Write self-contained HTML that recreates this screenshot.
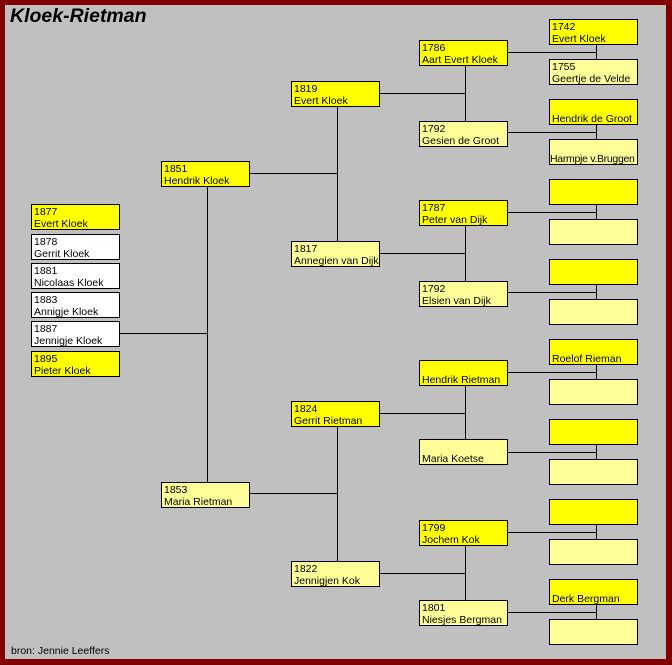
<!DOCTYPE html>
<html><head><meta charset="utf-8"><style>
body{margin:0;width:672px;height:665px;background:#800000;position:relative;overflow:hidden;font-family:"Liberation Sans",Arial,sans-serif}
#bg{position:absolute;left:5px;top:5px;width:661px;height:654px;background:#c0c0c0}
.b{position:absolute;box-sizing:border-box;width:89px;height:26px;border:1px solid #000;font-size:10.5px;line-height:12px;padding:1px 0 0 2px;white-space:nowrap;overflow:visible;color:#000}
.m{background:#ffff00}.f{background:#ffff99}.w{background:#fff}
.h{position:absolute;height:1px;background:#000}
.v{position:absolute;width:1px;background:#000}
</style></head><body>
<div id="bg"></div>
<div style="position:absolute;left:10px;top:5px;font-size:19.5px;font-weight:bold;font-style:italic">Kloek-Rietman</div>
<div style="position:absolute;left:11px;top:645px;font-size:10.5px">bron: Jennie Leeffers</div>

<!-- lines -->
<div class="v" style="left:207px;top:186px;height:296px"></div>
<div class="h" style="left:119px;top:333px;width:88px"></div>
<div class="h" style="left:250px;top:173px;width:87px"></div>
<div class="h" style="left:250px;top:493px;width:87px"></div>
<div class="v" style="left:337px;top:106px;height:135px"></div>
<div class="v" style="left:337px;top:426px;height:135px"></div>
<div class="h" style="left:379px;top:93px;width:86px"></div>
<div class="h" style="left:379px;top:253px;width:86px"></div>
<div class="h" style="left:379px;top:413px;width:86px"></div>
<div class="h" style="left:379px;top:573px;width:86px"></div>
<div class="v" style="left:465px;top:65px;height:56px"></div>
<div class="v" style="left:465px;top:225px;height:56px"></div>
<div class="v" style="left:465px;top:385px;height:54px"></div>
<div class="v" style="left:465px;top:545px;height:55px"></div>
<div class="h" style="left:507px;top:52px;width:89px"></div>
<div class="h" style="left:507px;top:132px;width:89px"></div>
<div class="h" style="left:507px;top:212px;width:89px"></div>
<div class="h" style="left:507px;top:292px;width:89px"></div>
<div class="h" style="left:507px;top:372px;width:89px"></div>
<div class="h" style="left:507px;top:452px;width:89px"></div>
<div class="h" style="left:507px;top:532px;width:89px"></div>
<div class="h" style="left:507px;top:612px;width:89px"></div>
<div class="v" style="left:596px;top:44px;height:15px"></div>
<div class="v" style="left:596px;top:124px;height:15px"></div>
<div class="v" style="left:596px;top:204px;height:15px"></div>
<div class="v" style="left:596px;top:284px;height:15px"></div>
<div class="v" style="left:596px;top:364px;height:15px"></div>
<div class="v" style="left:596px;top:444px;height:15px"></div>
<div class="v" style="left:596px;top:524px;height:15px"></div>
<div class="v" style="left:596px;top:604px;height:15px"></div>

<!-- children -->
<div class="b m" style="left:31px;top:204px">1877<br>Evert Kloek</div>
<div class="b w" style="left:31px;top:234px">1878<br>Gerrit Kloek</div>
<div class="b w" style="left:31px;top:263px">1881<br>Nicolaas Kloek</div>
<div class="b w" style="left:31px;top:292px">1883<br>Annigje Kloek</div>
<div class="b w" style="left:31px;top:321px">1887<br>Jennigje Kloek</div>
<div class="b m" style="left:31px;top:351px">1895<br>Pieter Kloek</div>

<!-- gen1 -->
<div class="b m" style="left:161px;top:161px">1851<br>Hendrik Kloek</div>
<div class="b f" style="left:161px;top:482px">1853<br>Maria Rietman</div>

<!-- gen2 -->
<div class="b m" style="left:291px;top:81px">1819<br>Evert Kloek</div>
<div class="b f" style="left:291px;top:241px">1817<br>Annegien van Dijk</div>
<div class="b m" style="left:291px;top:401px">1824<br>Gerrit Rietman</div>
<div class="b f" style="left:291px;top:561px">1822<br>Jennigjen Kok</div>

<!-- gen3 -->
<div class="b m" style="left:419px;top:40px">1786<br>Aart Evert Kloek</div>
<div class="b f" style="left:419px;top:121px">1792<br>Gesien de Groot</div>
<div class="b m" style="left:419px;top:200px">1787<br>Peter van Dijk</div>
<div class="b f" style="left:419px;top:281px">1792<br>Elsien van Dijk</div>
<div class="b m" style="left:419px;top:360px"><br>Hendrik Rietman</div>
<div class="b f" style="left:419px;top:439px"><br>Maria Koetse</div>
<div class="b m" style="left:419px;top:520px">1799<br>Jochem Kok</div>
<div class="b f" style="left:419px;top:600px">1801<br>Niesjes Bergman</div>

<!-- gen4 -->
<div class="b m" style="left:549px;top:19px">1742<br>Evert Kloek</div>
<div class="b f" style="left:549px;top:59px">1755<br>Geertje de Velde</div>
<div class="b m" style="left:549px;top:99px"><br>Hendrik de Groot</div>
<div class="b f" style="left:549px;top:139px;padding-left:0;text-indent:-2px;letter-spacing:-0.3px"><br>Harmpje v.Bruggen</div>
<div class="b m" style="left:549px;top:179px"></div>
<div class="b f" style="left:549px;top:219px"></div>
<div class="b m" style="left:549px;top:259px"></div>
<div class="b f" style="left:549px;top:299px"></div>
<div class="b m" style="left:549px;top:339px"><br>Roelof Rieman</div>
<div class="b f" style="left:549px;top:379px"></div>
<div class="b m" style="left:549px;top:419px"></div>
<div class="b f" style="left:549px;top:459px"></div>
<div class="b m" style="left:549px;top:499px"></div>
<div class="b f" style="left:549px;top:539px"></div>
<div class="b m" style="left:549px;top:579px"><br>Derk Bergman</div>
<div class="b f" style="left:549px;top:619px"></div>
</body></html>
